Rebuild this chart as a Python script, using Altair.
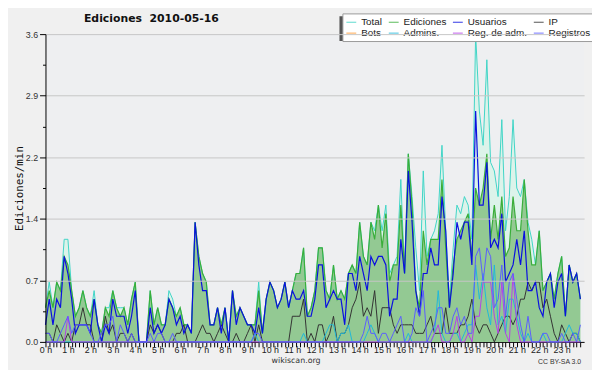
import altair as alt
import pandas as pd

series_names = ["Total", "Ediciones", "Usuarios", "IP", "Bots", "Admins.", "Reg. de adm.", "Registros"]
series_colors = ["#3fd4c6", "#3aae3a", "#0a10e0", "#333333", "#ff9a2e", "#1fb8da", "#b540e8", "#5a5cff"]

# one value every 10 minutes, 00:00 ... 23:50
total = [0.4, 0.7, 0.4, 0.7, 0.6, 1.2, 1.2, 0.6, 0.3, 0.4,
         0.6, 0.4, 0.3, 0.6, 0.2, 0.1, 0.4, 0.4, 0.6, 0.4,
         0.4, 0.4, 0.2, 0.5, 0.7, 0.0, 0.0, 0.0, 0.6, 0.2,
         0.4, 0.2, 0.2, 0.6, 0.5, 0.3, 0.4, 0.2, 0.2, 0.1,
         1.4, 1.0, 0.8, 0.7, 0.2, 0.2, 0.4, 0.2, 0.4, 0.0,
         0.6, 0.3, 0.4, 0.3, 0.2, 0.2, 0.2, 0.7, 0.1, 0.5,
         0.7, 0.6, 0.4, 0.5, 0.7, 0.4, 0.6, 0.8, 0.8, 1.1,
         0.3, 0.4, 0.6, 1.1, 1.1, 0.6, 0.5, 0.9, 0.5, 0.6,
         0.5, 0.8, 0.9, 0.8, 1.4, 1.0, 0.9, 1.4, 1.3, 1.6,
         1.3, 1.6, 0.8, 0.9, 1.0, 1.9, 0.8, 2.2, 1.7, 1.1,
         0.6, 2.0, 1.0, 1.2, 1.3, 1.5, 2.3, 1.3, 0.5, 1.1,
         1.6, 1.5, 1.7, 1.6, 1.2, 3.6, 2.7, 2.3, 3.3, 2.1,
         2.0, 1.7, 2.6, 1.3, 1.7, 2.6, 1.8, 1.7, 1.9, 1.4,
         1.2, 0.9, 1.3, 0.6, 0.7, 0.8, 0.5, 0.8, 1.0, 0.3,
         0.9, 0.7, 0.8, 0.5]

ediciones = [0.4, 0.6, 0.4, 0.7, 0.6, 1.0, 0.9, 0.6, 0.3, 0.4,
             0.6, 0.4, 0.3, 0.5, 0.2, 0.1, 0.4, 0.3, 0.6, 0.4,
             0.3, 0.4, 0.2, 0.5, 0.7, 0.0, 0.0, 0.0, 0.6, 0.2,
             0.4, 0.2, 0.2, 0.5, 0.4, 0.3, 0.4, 0.2, 0.2, 0.1,
             1.4, 1.0, 0.8, 0.7, 0.2, 0.2, 0.4, 0.2, 0.4, 0.0,
             0.6, 0.3, 0.4, 0.3, 0.2, 0.2, 0.2, 0.6, 0.1, 0.5,
             0.7, 0.6, 0.4, 0.5, 0.7, 0.4, 0.6, 0.8, 0.8, 1.1,
             0.3, 0.4, 0.6, 1.1, 1.1, 0.6, 0.5, 0.9, 0.5, 0.6,
             0.5, 0.8, 0.9, 0.8, 1.4, 1.0, 0.9, 1.4, 1.2, 1.6,
             1.1, 1.5, 0.7, 0.9, 0.9, 1.6, 0.8, 2.2, 1.6, 0.6,
             0.4, 1.3, 0.9, 1.2, 1.2, 1.2, 1.9, 1.1, 0.4, 0.9,
             1.2, 1.3, 1.4, 1.5, 1.0, 1.8, 1.6, 1.8, 2.2, 1.2,
             1.6, 1.2, 1.7, 1.0, 1.1, 1.7, 1.3, 1.3, 1.9, 1.3,
             0.9, 0.9, 1.3, 0.6, 0.7, 0.8, 0.5, 0.8, 1.0, 0.3,
             0.9, 0.7, 0.8, 0.5]

usuarios = [0.2, 0.5, 0.2, 0.5, 0.4, 1.0, 0.8, 0.5, 0.1, 0.2,
            0.2, 0.2, 0.1, 0.5, 0.2, 0.0, 0.2, 0.1, 0.5, 0.3,
            0.3, 0.3, 0.1, 0.3, 0.6, 0.0, 0.0, 0.0, 0.4, 0.1,
            0.2, 0.1, 0.2, 0.5, 0.4, 0.2, 0.3, 0.1, 0.2, 0.1,
            1.4, 0.9, 0.6, 0.6, 0.2, 0.2, 0.4, 0.1, 0.4, 0.0,
            0.6, 0.2, 0.4, 0.3, 0.2, 0.2, 0.1, 0.4, 0.1, 0.5,
            0.7, 0.6, 0.4, 0.5, 0.7, 0.4, 0.6, 0.5, 0.5, 0.6,
            0.3, 0.3, 0.5, 0.9, 0.9, 0.4, 0.5, 0.6, 0.5, 0.5,
            0.2, 0.8, 0.8, 0.6, 1.0, 0.8, 0.6, 1.0, 0.9, 1.0,
            1.0, 0.9, 0.3, 0.5, 0.5, 1.2, 0.8, 2.0, 1.4, 0.6,
            0.3, 0.8, 0.8, 1.1, 0.9, 0.9, 1.7, 1.3, 0.4, 0.8,
            1.4, 1.2, 1.4, 1.4, 0.9, 2.7, 1.6, 1.6, 2.1, 1.1,
            1.2, 1.1, 1.5, 0.7, 0.8, 0.9, 1.2, 0.9, 1.3, 0.6,
            0.6, 0.7, 0.4, 0.3, 0.7, 0.8, 0.4, 0.7, 0.8, 0.3,
            0.9, 0.7, 0.8, 0.5]

ip = [0.1, 0.1, 0.0, 0.2, 0.1, 0.0, 0.1, 0.0, 0.2, 0.2,
      0.4, 0.2, 0.2, 0.0, 0.0, 0.0, 0.3, 0.1, 0.2, 0.0,
      0.1, 0.1, 0.0, 0.1, 0.0, 0.0, 0.0, 0.0, 0.2, 0.1,
      0.2, 0.1, 0.0, 0.0, 0.0, 0.1, 0.1, 0.2, 0.0, 0.0,
      0.0, 0.1, 0.2, 0.1, 0.1, 0.0, 0.1, 0.2, 0.1, 0.0,
      0.0, 0.1, 0.0, 0.0, 0.1, 0.2, 0.0, 0.2, 0.0, 0.0,
      0.0, 0.0, 0.0, 0.0, 0.0, 0.0, 0.3, 0.3, 0.3, 0.5,
      0.0, 0.1, 0.0, 0.2, 0.2, 0.0, 0.1, 0.3, 0.0, 0.1,
      0.1, 0.2, 0.4, 0.5, 0.7, 0.3, 0.4, 0.3, 0.6, 0.1,
      0.4, 0.4, 0.4, 0.2, 0.1, 0.2, 0.2, 0.2, 0.2, 0.1,
      0.1, 0.1, 0.2, 0.3, 0.1, 0.1, 0.1, 0.4, 0.1, 0.1,
      0.1, 0.2, 0.2, 0.3, 0.5, 0.2, 0.1, 0.2, 0.2, 0.1,
      0.0, 0.1, 0.2, 0.3, 0.3, 0.2, 0.3, 0.5, 0.5, 0.7,
      0.6, 0.7, 0.7, 0.4, 0.5, 0.3, 0.1, 0.0, 0.2, 0.1,
      0.0, 0.1, 0.1, 0.0]

admins = [0, 0, 0, 0, 0, 0, 0, 0, 0, 0,
          0, 0, 0, 0, 0, 0, 0, 0, 0, 0,
          0, 0, 0, 0, 0, 0, 0, 0, 0, 0,
          0, 0, 0, 0, 0, 0, 0, 0, 0, 0,
          0, 0, 0, 0, 0, 0, 0, 0, 0, 0,
          0, 0, 0, 0, 0, 0, 0.1, 0, 0, 0,
          0, 0, 0, 0, 0, 0, 0, 0, 0, 0.1,
          0, 0, 0, 0, 0, 0.1, 0.2, 0.2, 0, 0.1,
          0.1, 0.2, 0, 0, 0, 0, 0.1, 0.2, 0.1, 0,
          0, 0, 0, 0, 0, 0, 0, 0.1, 0, 0,
          0, 0, 0, 0, 0.1, 0.6, 0.1, 0, 0, 0.1,
          0.1, 0, 0.1, 0.2, 0.2, 0.9, 0.5, 0.8, 0.4, 0.2,
          0.9, 0.2, 0.3, 0.1, 0.5, 0.5, 0.3, 0.1, 0, 0.1,
          0, 0, 0, 0.1, 0, 0, 0, 0, 0, 0.1,
          0.2, 0.1, 0.1, 0]

reg_adm = [0, 0, 0, 0, 0, 0, 0.3, 0, 0, 0,
           0, 0, 0, 0, 0, 0, 0, 0, 0, 0,
           0, 0, 0, 0, 0, 0, 0, 0, 0, 0,
           0, 0, 0, 0, 0, 0, 0, 0, 0, 0,
           0, 0, 0, 0, 0, 0, 0, 0, 0, 0,
           0, 0, 0, 0, 0, 0, 0, 0, 0, 0,
           0, 0, 0, 0, 0, 0, 0, 0, 0, 0,
           0, 0, 0, 0, 0, 0, 0, 0, 0, 0,
           0, 0, 0, 0, 0, 0, 0, 0, 0, 0,
           0, 0, 0, 0, 0, 0, 0, 0, 0, 0,
           0, 0, 0, 0, 0.1, 0.2, 0, 0, 0, 0.1,
           0.3, 0, 0, 0.1, 0, 0.3, 0.3, 0.7, 0.7, 0.7,
           0.3, 0.1, 0.7, 0.1, 0, 0.8, 0.2, 0, 0, 0,
           0, 0, 0, 0, 0, 0, 0, 0, 0, 0,
           0, 0, 0, 0]

registros = [0.1, 0.1, 0, 0, 0.1, 0.2, 0.3, 0.1, 0.2, 0.2,
             0.2, 0.2, 0.1, 0, 0, 0.1, 0.2, 0.2, 0.3, 0,
             0.2, 0.1, 0, 0.1, 0, 0, 0, 0, 0.1, 0,
             0.1, 0.1, 0, 0, 0.1, 0, 0, 0, 0, 0,
             0, 0, 0, 0, 0, 0, 0, 0, 0, 0,
             0, 0, 0, 0, 0, 0, 0.1, 0.1, 0, 0,
             0, 0, 0, 0, 0, 0, 0, 0, 0, 0,
             0, 0, 0, 0, 0, 0, 0, 0, 0, 0,
             0, 0, 0, 0, 0, 0.1, 0.3, 0.1, 0.1, 0,
             0.1, 0.1, 0, 0.1, 0.2, 0.3, 0, 0, 0.1, 0.4,
             0.3, 0.6, 0, 0.1, 0.2, 0.4, 0.4, 0.1, 0.1, 0.3,
             0.4, 0.2, 0.3, 0.1, 0.1, 1.0, 1.1, 0.7, 1.1, 1.0,
             0.4, 0.5, 0.9, 0.3, 0.7, 0.8, 0.5, 0.2, 0, 0.3,
             0, 0, 0, 0.1, 0.1, 0, 0, 0, 0.1, 0,
             0, 0.1, 0, 0.2]

y_ticks = [0.0, 0.36, 0.72, 1.08, 1.44, 1.8, 2.16, 2.52, 2.88, 3.24, 3.6]
x_ticks = [i / 6 for i in range(144)]

title_text = ["Ediciones\u00a0 2010-05-16"]
site_text = ["wikiscan.org"]
license_text = ["CC BY-SA 3.0"]

series_values = {
    "Total": total, "Ediciones": ediciones, "Usuarios": usuarios, "IP": ip,
    "Admins.": admins, "Reg. de adm.": reg_adm, "Registros": registros,
}
rows = []
for name, vals in series_values.items():
    for i, v in enumerate(vals):
        rows.append({"t": i / 6, "v": v, "serie": name})
df = pd.DataFrame(rows)

MAJOR_Y = "abs(datum.value / 0.72 - round(datum.value / 0.72)) < 0.01"
x_axis = alt.Axis(
    values=x_ticks,
    labelExpr="abs(datum.value - round(datum.value)) < 0.001 ? round(datum.value) + ' h' : ''",
    tickSize=5, tickColor="black", domainColor="black", domainWidth=1,
    labelFont="Liberation Sans", labelFontSize=9, labelColor="#222", labelPadding=-1,
    labelOverlap=False, labelFlush=False, grid=False, title=None,
)
y_axis = alt.Axis(
    values=y_ticks,
    labelExpr=MAJOR_Y + " ? format(datum.value, '.1f') : ''",
    tickSize={"condition": {"test": MAJOR_Y, "value": 6}, "value": 3},
    tickColor="black", domainColor="black", domainWidth=1,
    grid=True, gridColor="#c6c6c6",
    gridOpacity={"condition": {"test": MAJOR_Y + " && datum.value > 0", "value": 1}, "value": 0},
    labelFont="Liberation Sans", labelFontSize=9, labelColor="#333", labelPadding=2,
    labelFlush=False, labelOverlap=False,
    title="Ediciones/min", titleFont="DejaVu Sans Mono", titleFontSize=11,
    titleFontWeight="normal", titleColor="#111", titleAngle=270,
    titleX=-26, titleY=156, titleAlign="center", titleBaseline="middle",
    zindex=1,
)

X = alt.X("t:Q", scale=alt.Scale(domain=[0, 24], nice=False, zero=False), axis=x_axis)
Y = alt.Y("v:Q", scale=alt.Scale(domain=[0, 3.6], nice=False), axis=y_axis)

legend = alt.Legend(
    orient="none", legendX=301, legendY=-21, columns=4, direction="horizontal", title=None,
    symbolType="stroke", symbolSize=100, symbolStrokeWidth=1.2, symbolOpacity=0.7,
    labelFont="Liberation Sans", labelFontSize=10, labelColor="#222",
    padding=3, fillColor="white", strokeColor="#9a9a9a",
    rowPadding=0, columnPadding=3, labelOffset=4,
)
color = alt.Color("serie:N", scale=alt.Scale(domain=series_names, range=series_colors), legend=legend)

area_total = alt.Chart(df[df.serie == "Total"]).mark_area(color="#dcf3ea").encode(x=X, y=Y)
area_edic = alt.Chart(df[df.serie == "Ediciones"]).mark_area(color="#93c993").encode(x=X, y=Y)

widths = {"Total": 1.0, "Ediciones": 1.2, "Usuarios": 1.2, "IP": 1.0,
          "Admins.": 1.0, "Reg. de adm.": 1.0, "Registros": 1.0}
lines = []
for name in ["Total", "Ediciones", "IP", "Usuarios", "Admins.", "Reg. de adm.", "Registros"]:
    lines.append(
        alt.Chart(df[df.serie == name]).mark_line(strokeWidth=widths[name])
        .encode(x=X, y=Y, color=color)
    )

shadow = alt.Chart(pd.DataFrame({"a": [0]})).mark_rect(color="#555555").encode(
    x=alt.value(298), x2=alt.value(544), y=alt.value(-18), y2=alt.value(7)
)

title = alt.Chart(pd.DataFrame({"label": title_text})).mark_text(
    font="DejaVu Sans", fontSize=11, fontWeight="bold", align="left", baseline="middle", color="#111"
).encode(x=alt.value(39), y=alt.value(-15.5), text="label:N")

site = alt.Chart(pd.DataFrame({"label": site_text})).mark_text(
    font="DejaVu Sans", fontSize=8, align="center", baseline="middle", color="#333"
).encode(x=alt.value(254), y=alt.value(331), text="label:N")

lic = alt.Chart(pd.DataFrame({"label": license_text})).mark_text(
    font="Liberation Sans", fontSize=7, align="right", baseline="middle", color="#333"
).encode(x=alt.value(543), y=alt.value(332), text="label:N")

chart = alt.layer(area_total, area_edic, *lines, shadow, title, site, lic).properties(
    width=546, height=312,
    padding={"left": 38, "top": 24, "right": 8, "bottom": 26},
    autosize=alt.AutoSizeParams(type="none"),
).configure(background="#f0f0f0").configure_view(fill="#eeeff1", stroke=None)

chart.save("out.html", embed_options={"renderer": "svg", "actions": False})
